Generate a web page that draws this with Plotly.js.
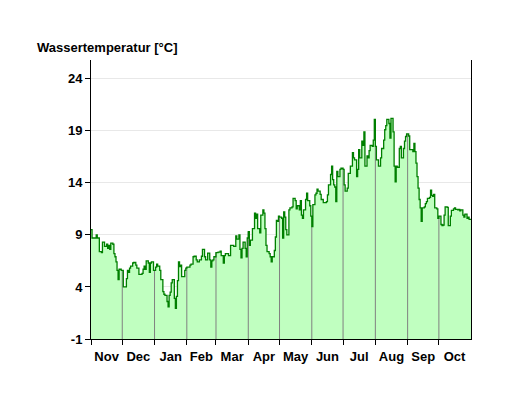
<!DOCTYPE html>
<html>
<head>
<meta charset="utf-8">
<script src="https://cdn.plot.ly/plotly-3.0.1.min.js"></script>
<style>html,body{margin:0;padding:0;background:#fff;}#chart{width:531px;height:398px;}</style>
</head>
<body>
<div id="chart"></div>
<script>
// Day offsets from 1 Nov (step starts) and water temperatures [°C]
const days = [0,1,5,6,8,10,11,13,15,16,17,18,19,21,22,23,24,25,26,27,29,31,34,35,36,37,38,40,41,43,44,46,49,50,51,52,53,55,56,57,58,
  60,62,63,64,66,67,69,70,71,73,74,75,76,77,78,80,81,82,83,84,85,86,87,90,91,92,94,95,96,98,99,101,102,104,106,107,109,110,112,114,115,116,117,
  118,120,122,124,125,127,128,129,131,132,134,135,137,139,140,142,143,144,145,146,148,149,150,151,152,153,155,157,158,159,160,162,163,165,166,167,168,169,171,172,173,174,176,177,178,
  179,180,181,183,184,185,186,187,188,190,191,193,194,196,197,198,200,201,202,203,204,206,207,208,210,211,212,213,215,216,217,218,220,221,223,226,227,228,230,231,232,233,234,235,236,237,239,
  240,242,243,244,246,247,249,251,252,253,255,256,257,258,260,261,262,263,265,266,267,268,270,271,272,273,274,276,278,279,281,282,283,284,286,287,288,290,291,292,293,294,296,297,298,300,301,302,303,
  304,305,306,309,310,311,312,313,314,315,316,317,318,320,321,322,323,325,326,327,328,329,330,332,333,334,336,337,338,339,340,342,343,345,346,348,349,350,352,353,354,355,357,358,359,361,362,363,365];
const temps = [9.5,8.7,9.0,8.7,7.4,7.3,8.3,7.9,8.1,7.7,8.0,7.6,8.2,8.1,7.2,6.9,6.4,5.6,4.7,5.7,5.6,4.0,4.8,5.6,5.4,5.8,6.0,6.3,6.35,6.1,5.8,5.2,5.3,5.7,6.0,5.7,6.5,6.3,5.4,6.3,6.4,
  5.6,5.9,6.2,6.0,5.6,4.7,3.55,3.3,3.2,2.6,2.1,3.2,3.5,4.4,4.7,2.9,1.95,3.1,4.6,6.4,5.95,6.1,5.0,5.6,5.8,5.9,5.9,6.1,6.2,6.9,6.95,6.6,6.4,6.6,6.95,7.6,6.9,6.6,7.25,6.6,5.9,6.5,6.6,
  6.9,7.3,7.35,7.45,7.0,6.3,7.0,7.2,7.2,7.0,8.0,8.0,7.9,8.9,8.6,9.0,7.6,6.8,7.7,8.3,7.7,6.9,8.7,9.3,8.0,8.5,9.6,11.1,10.6,11.0,9.6,9.2,10.9,11.4,11.1,9.6,8.0,7.4,7.2,6.9,6.4,6.9,7.5,8.8,10.4,
  10.3,10.8,10.7,10.6,8.7,11.2,10.7,9.5,9.0,11.4,11.6,11.7,12.5,12.3,11.5,11.8,11.4,12.3,10.9,10.6,11.4,12.4,13.0,12.3,11.8,10.8,9.8,11.9,12.85,13.0,13.4,13.2,12.9,12.4,12.1,12.2,12.85,13.8,14.8,15.6,14.3,13.8,13.6,12.2,15.1,14.6,15.3,
  15.4,15.3,13.8,13.2,13.5,14.9,15.6,16.9,16.4,16.2,14.6,15.3,17.2,16.4,18.0,17.6,18.9,15.6,16.6,16.4,17.1,17.6,17.5,18.1,20.1,17.5,16.2,15.6,16.4,17.3,18.1,19.1,19.5,20.1,19.7,18.3,20.2,18.9,15.6,14.1,15.6,15.5,17.3,17.5,16.4,17.3,18.0,18.45,18.7,
  18.7,18.5,17.2,17.0,17.8,17.0,15.9,14.6,13.5,12.4,11.6,10.3,11.6,11.7,12.0,12.2,12.5,12.6,13.3,12.8,12.7,12.9,11.6,11.5,10.6,10.8,10.0,9.9,9.95,10.9,11.7,11.65,9.9,10.8,11.35,11.5,11.6,11.45,11.4,11.45,11.3,11.4,10.9,10.7,11.0,10.6,10.7,10.5,10.5];
const monthStartDays = [30,61,92,120,151,181,212,242,273,304,334];
const yTicks = [-1,4,9,14,19,24];
const yMin = -1, yMax = 25.8;

const start = Date.UTC(2022,10,1);
function toDate(d){ return new Date(start + d*86400000).toISOString().slice(0,10); }
const xs = days.map(toDate);

function valueAt(day){
  let v = temps[0];
  for (let i=0;i<days.length;i++){ if (days[i] <= day) v = temps[i]; else break; }
  return v;
}
const gx = [], gy = [];
monthStartDays.forEach(d => { gx.push(toDate(d), toDate(d), null); gy.push(yMin, valueAt(d), null); });

const font = {family:'Arial, "Liberation Sans", sans-serif', size:13, color:'#000', weight:'bold'};

const traces = [
  {x:[xs[0], xs[xs.length-1]], y:[yMin,yMin], mode:'lines', line:{width:0, color:'rgba(0,0,0,0)'}, hoverinfo:'skip'},
  {x:xs, y:temps, mode:'lines', line:{shape:'hv', width:0, color:'rgba(0,0,0,0)'}, fill:'tonexty', fillcolor:'#c0ffc0', hoverinfo:'skip'},
  {x:gx, y:gy, mode:'lines', line:{color:'#808080', width:1}, hoverinfo:'skip'},
  {x:xs, y:temps, mode:'lines', line:{shape:'hv', width:1.3, color:'#007f00'}}
];

const layout = {
  width:531, height:398,
  margin:{l:91, r:60, t:60, b:59},
  paper_bgcolor:'#fff', plot_bgcolor:'#fff',
  showlegend:false,
  font:font,
  title:{text:'Wassertemperatur [°C]', font:{family:font.family, size:13, color:'#000', weight:'bold'},
         x:37/531, xanchor:'left', xref:'container', y:1-47/398, yanchor:'middle', yref:'container'},
  xaxis:{type:'date', range:['2022-11-01','2023-10-31 20:00'], tick0:'2022-11-01', dtick:'M1', tickformat:'%b',
         ticklabelmode:'period', ticks:'outside', ticklen:5, tickcolor:'#000', tickwidth:1,
         showline:true, linecolor:'#000', linewidth:1, showgrid:false, zeroline:false, tickfont:font},
  yaxis:{range:[yMin,yMax], tickvals:yTicks, ticktext:yTicks.map(String), ticks:'outside', ticklen:5, tickcolor:'#000',
         showline:true, linecolor:'#000', linewidth:1, mirror:true, showgrid:true, gridcolor:'#e8e8e8', gridwidth:1,
         zeroline:false, tickfont:font}
};
Plotly.newPlot('chart', traces, layout, {staticPlot:true, displayModeBar:false});
</script>
</body>
</html>
